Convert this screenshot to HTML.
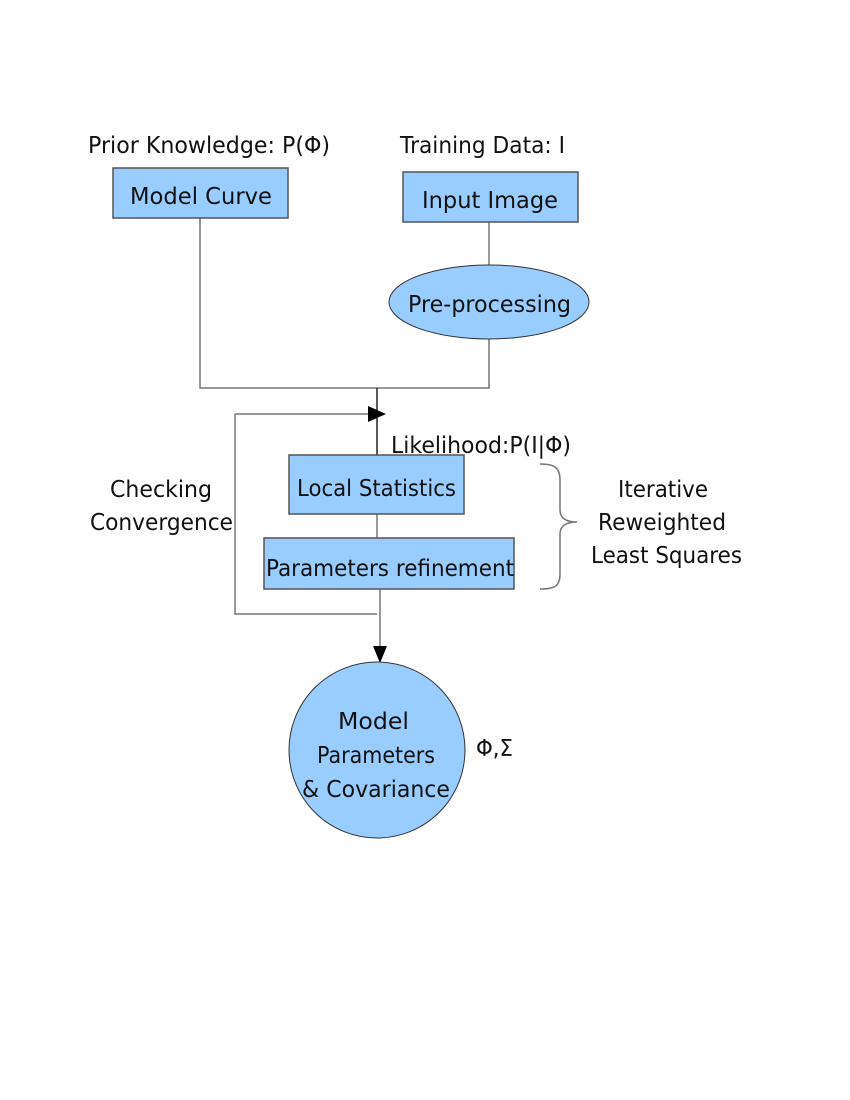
<!DOCTYPE html>
<html><head><meta charset="utf-8"><style>body{margin:0;background:#fff}svg{display:block}text{font-family:"DejaVu Sans","Liberation Sans",sans-serif;font-size:23px;fill:#111}</style></head>
<body>
<svg width="850" height="1100" viewBox="0 0 850 1100" xmlns="http://www.w3.org/2000/svg">
<g stroke="#777" stroke-width="1.5" fill="none">
<polyline points="200,218 200,388 489,388 489,339"/>
<line x1="489" y1="222" x2="489" y2="265"/>
<line x1="377" y1="514" x2="377" y2="538"/>
<polyline points="235,414 235,614 377,614"/>
<line x1="235" y1="414" x2="370" y2="414"/>
<line x1="380" y1="589" x2="380" y2="648"/>
<path d="M540,464 C555,464 560,468 560,480 L560,510 C560,518 566,522 577,522 C566,522 560,526 560,534 L560,574 C560,586 555,589 540,589"/>
</g>
<line x1="377" y1="388" x2="377" y2="455" stroke="#222" stroke-width="1.5"/>
<polygon points="368,406 386,414 368,422" fill="#000"/>
<polygon points="373,646 387,646 380,663" fill="#000"/>
<g fill="#99ccff" stroke="#555" stroke-width="1.5">
<rect x="113" y="168" width="175" height="50"/>
<rect x="403" y="172" width="175" height="50"/>
<rect x="289" y="455" width="175" height="59"/>
<rect x="264" y="538" width="250" height="51"/>
</g>
<g fill="#99ccff" stroke="#333" stroke-width="1">
<ellipse cx="489" cy="302" rx="100" ry="37"/>
<circle cx="377" cy="750" r="88"/>
</g>
<g lengthAdjust="spacingAndGlyphs">
<text x="88" y="153" textLength="242" lengthAdjust="spacingAndGlyphs">Prior Knowledge: P(Φ)</text>
<text x="400" y="153" textLength="165" lengthAdjust="spacingAndGlyphs">Training Data: I</text>
<text x="130" y="204" textLength="142" lengthAdjust="spacingAndGlyphs">Model Curve</text>
<text x="422" y="208" textLength="136" lengthAdjust="spacingAndGlyphs">Input Image</text>
<text x="408" y="312" textLength="163" lengthAdjust="spacingAndGlyphs">Pre-processing</text>
<text x="391" y="453" textLength="180" lengthAdjust="spacingAndGlyphs">Likelihood:P(I|Φ)</text>
<text x="297" y="496" textLength="159" lengthAdjust="spacingAndGlyphs">Local Statistics</text>
<text x="266" y="576" textLength="248" lengthAdjust="spacingAndGlyphs">Parameters refinement</text>
<text x="110" y="497" textLength="102" lengthAdjust="spacingAndGlyphs">Checking</text>
<text x="90" y="530" textLength="143" lengthAdjust="spacingAndGlyphs">Convergence</text>
<text x="618" y="497" textLength="90" lengthAdjust="spacingAndGlyphs">Iterative</text>
<text x="598" y="530" textLength="128" lengthAdjust="spacingAndGlyphs">Reweighted</text>
<text x="591" y="563" textLength="151" lengthAdjust="spacingAndGlyphs">Least Squares</text>
<text x="338" y="729" textLength="71" lengthAdjust="spacingAndGlyphs">Model</text>
<text x="317" y="763" textLength="118" lengthAdjust="spacingAndGlyphs">Parameters</text>
<text x="302" y="797" textLength="148" lengthAdjust="spacingAndGlyphs">&amp; Covariance</text>
<text x="476" y="756" textLength="37" lengthAdjust="spacingAndGlyphs">Φ,Σ</text>
</g>
</svg>
</body></html>
